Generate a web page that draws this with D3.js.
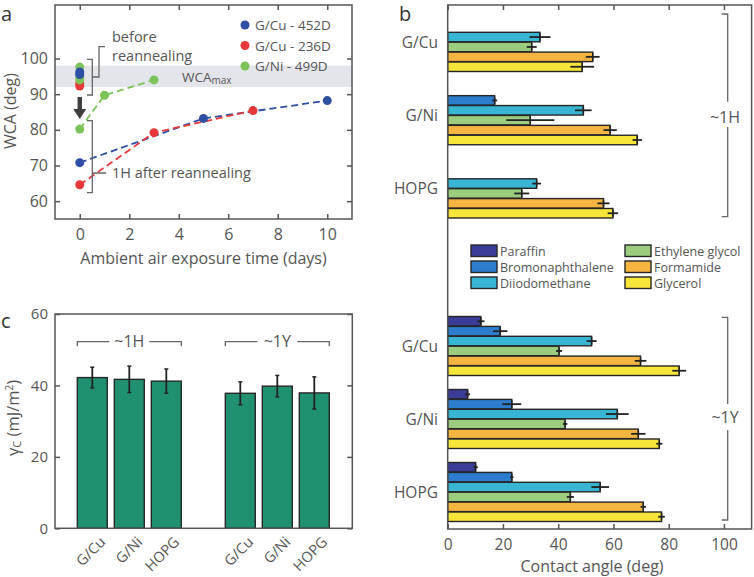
<!DOCTYPE html>
<html><head><meta charset="utf-8">
<script src="https://cdn.jsdelivr.net/npm/d3@7"></script>
<style>
body{margin:0;background:#fff;}
text{font-family:"Open Sans",sans-serif;}
</style></head>
<body><svg id="c" width="754" height="577"></svg>
<script>
// ---------- DATA ----------
// panel a
const seriesA = ["G/Cu - 452D","G/Cu - 236D","G/Ni - 499D"];
const beforeA = [[96.2,95.5],[93.0,92.3],[97.6,94.8,94.0]];
const afterDays = [[0,5,10],[0,3,7],[0,1,3]];
const afterWCA = [[70.8,83.2,88.2],[64.6,79.2,85.4],[80.2,89.7,94.0]];
const wcaMax = [92,98];
const ticksAx = [0,2,4,6,8,10];
const ticksAy = [60,70,80,90,100];
// panel b
const liquids = ["Paraffin","Bromonaphthalene","Diiodomethane","Ethylene glycol","Formamide","Glycerol"];
const substrates = ["G/Cu","G/Ni","HOPG"];
const angle1H = [[null,null,33.4,30.4,52.5,48.7],[null,17.0,49.1,29.9,58.8,68.6],[null,null,32.2,26.8,56.4,59.8]];
const err1H   = [[0,0,3.8,1.8,2.5,4.3],[0,0.9,3.0,8.7,2.4,1.7],[0,0,1.6,2.7,2.2,1.9]];
const angle1Y = [[12.0,19.0,52.1,40.3,69.8,83.8],[7.2,23.2,61.4,42.5,69.0,76.6],[10.1,23.2,55.2,44.4,70.8,77.4]];
const err1Y   = [[1.3,2.6,1.8,1.1,2.1,2.5],[0.9,3.4,4.1,0.8,2.6,1.1],[0.8,0.6,3.2,1.3,1.0,1.2]];
const ticksBx = [0,20,40,60,80,100];
// panel c
const catC = ["G/Cu","G/Ni","HOPG","","G/Cu ","G/Ni ","HOPG "];
const gammaC = [42.2,41.7,41.2,null,37.8,39.8,37.9];
const gammaErr = [2.9,3.7,3.4,null,3.2,3.0,4.5];
const ticksCy = [0,20,40,60];

// ---------- STYLE ----------
const TXT="#555", AX="#555";
const colA=["#2f4fa5","#e8383a","#7cc459"];
const colL=["#3a3c98","#2c7dcd","#37b5d2","#9ccc7e","#f6b440","#f8e53a"];
const BAR="#1f9171";
const svg=d3.select("#c");

// ---------- PANEL A ----------
const xA=d3.scaleLinear().domain([-1,11]).range([55,352]);
const yA=d3.scaleLinear().domain([55,115]).range([219,5]);
const gA=svg.append("g");
gA.append("rect").attr("x",xA(-1)).attr("y",yA(wcaMax[1])).attr("width",xA(11)-xA(-1)).attr("height",yA(wcaMax[0])-yA(wcaMax[1])).attr("fill","#e4e5ea");
gA.append("g").attr("transform",`translate(0,${yA(55)})`).call(d3.axisBottom(xA).tickValues(ticksAx).tickSize(-5).tickPadding(9.5).tickFormat(d3.format("d")))
  .call(g=>{g.select(".domain").remove();});
gA.append("g").attr("transform",`translate(0,${yA(115)})`).call(d3.axisTop(xA).tickValues(ticksAx).tickSize(-5).tickFormat(""))
  .call(g=>g.select(".domain").remove());
gA.append("g").attr("transform",`translate(${xA(-1)},0)`).call(d3.axisLeft(yA).tickValues(ticksAy).tickSize(-5).tickPadding(7))
  .call(g=>g.select(".domain").remove());
gA.append("g").attr("transform",`translate(${xA(11)},0)`).call(d3.axisRight(yA).tickValues(ticksAy).tickSize(-5).tickFormat(""))
  .call(g=>g.select(".domain").remove());
gA.selectAll(".tick line").attr("stroke",AX).attr("stroke-width",1.5);
gA.selectAll(".tick text").attr("fill",TXT).attr("font-size",16).attr("font-family","Open Sans");
gA.append("rect").attr("x",xA(-1)).attr("y",yA(115)).attr("width",xA(11)-xA(-1)).attr("height",yA(55)-yA(115)).attr("fill","none").attr("stroke",AX).attr("stroke-width",1.5);
const lineA=d3.line().x(d=>xA(d[0])).y(d=>yA(d[1]));
seriesA.forEach((s,i)=>{
  const pts=afterDays[i].map((d,j)=>[d,afterWCA[i][j]]);
  gA.append("path").attr("d",lineA(pts)).attr("fill","none").attr("stroke",colA[i]).attr("stroke-width",1.8).attr("stroke-dasharray","7,4");
});
[1,0,2].forEach(i=>{
  const pts=afterDays[i].map((d,j)=>[d,afterWCA[i][j]]);
  gA.selectAll(null).data(pts).enter().append("circle").attr("cx",d=>xA(d[0])).attr("cy",d=>yA(d[1])).attr("r",4.5).attr("fill",colA[i]);
});
[1,2,0].forEach(i=>{
  gA.selectAll(null).data(beforeA[i]).enter().append("circle").attr("cx",xA(0)).attr("cy",d=>yA(d)).attr("r",4.5).attr("fill",colA[i]);
});
seriesA.forEach((s,i)=>{
  const y=25+i*20.5;
  gA.append("circle").attr("cx",245).attr("cy",y).attr("r",4.5).attr("fill",colA[i]);
  gA.append("text").attr("x",255).attr("y",y+5).attr("font-size",13.5).attr("fill",TXT).text(s);
});
const br=gA.append("g").attr("fill","none").attr("stroke","#666").attr("stroke-width",1.3);
br.append("path").attr("d","M87,59.3H92.3V95H87M92.3,77H99V46.7H105");
br.append("path").attr("d","M87,120.7H92.3V192.7H87M92.3,173H106");
gA.append("text").attr("x",112).attr("y",41.5).attr("font-size",14.5).attr("fill",TXT).text("before");
gA.append("text").attr("x",112).attr("y",60.5).attr("font-size",14.5).attr("fill",TXT).text("reannealing");
gA.append("text").attr("x",112).attr("y",178).attr("font-size",14.5).attr("fill",TXT).text("1H after reannealing");
const wt=gA.append("text").attr("x",182).attr("y",81.5).attr("font-size",13.5).attr("fill",TXT).text("WCA");
wt.append("tspan").attr("font-size",10).attr("dy",2).text("max");
gA.append("path").attr("d",`M${xA(0)-2.2},97V109H${xA(0)-6.5}L${xA(0)},119L${xA(0)+6.5},109H${xA(0)+2.2}V97Z`).attr("fill","#3d3d3d");
gA.append("text").attr("x",xA(5)).attr("y",264).attr("text-anchor","middle").attr("font-size",16).attr("fill",TXT).text("Ambient air exposure time (days)");
gA.append("text").attr("transform","translate(16,111) rotate(-90)").attr("text-anchor","middle").attr("font-size",16).attr("fill",TXT).text("WCA (deg)");
svg.append("text").attr("x",1).attr("y",21).attr("font-size",20).attr("fill","#333").text("a");

// ---------- PANEL B ----------
const xB=d3.scaleLinear().domain([0,110]).range([447.7,751.6]);
const gB=svg.append("g");
gB.append("g").attr("transform","translate(0,529)").call(d3.axisBottom(xB).tickValues(ticksBx).tickSize(-5).tickPadding(10))
  .call(g=>g.select(".domain").remove());
gB.append("g").attr("transform","translate(0,5)").call(d3.axisTop(xB).tickValues(ticksBx).tickSize(-5).tickFormat(""))
  .call(g=>g.select(".domain").remove());
gB.selectAll(".tick line").attr("stroke",AX).attr("stroke-width",1.5);
gB.selectAll(".tick text").attr("fill",TXT).attr("font-size",15.5).attr("font-family","Open Sans");
const yG1H=d3.scalePoint().domain(substrates).range([42,188.5]);
const yG1Y=d3.scalePoint().domain(substrates).range([346,492]);
const yL=d3.scaleBand().domain(liquids).range([-29.5,29.5]).paddingInner(0.04);
function drawGroups(scale,vals,errs){
  substrates.forEach((s,i)=>{
    const c=scale(s);
    liquids.forEach((l,j)=>{
      const v=vals[i][j]; if(v==null) return;
      const y=c+yL(l);
      gB.append("rect").attr("x",xB(0)).attr("y",y).attr("width",xB(v)-xB(0)).attr("height",yL.bandwidth()).attr("fill",colL[j]).attr("stroke","#262626").attr("stroke-width",1.4);
      const e=errs[i][j];
      gB.append("line").attr("x1",xB(v-e)).attr("x2",xB(v+e)).attr("y1",y+yL.bandwidth()/2).attr("y2",y+yL.bandwidth()/2).attr("stroke","#222").attr("stroke-width",1.8);
      gB.append("line").attr("x1",xB(v)).attr("x2",xB(v)).attr("y1",y+1).attr("y2",y+yL.bandwidth()-1).attr("stroke","#222").attr("stroke-width",1.5);
    });
    gB.append("text").attr("x",438).attr("y",c+5.5).attr("text-anchor","end").attr("font-size",15.5).attr("fill",TXT).text(s);
  });
}
drawGroups(yG1H,angle1H,err1H);
drawGroups(yG1Y,angle1Y,err1Y);
gB.append("rect").attr("x",xB(0)).attr("y",5).attr("width",xB(110)-xB(0)).attr("height",524).attr("fill","none").attr("stroke",AX).attr("stroke-width",1.5);
liquids.forEach((l,j)=>{
  const col=Math.floor(j/3), row=j%3;
  const x=col?625:471, y=245+row*16;
  gB.append("rect").attr("x",x).attr("y",y).attr("width",26).attr("height",11.5).attr("fill",colL[j]).attr("stroke","#262626").attr("stroke-width",1.4);
  gB.append("text").attr("x",x+29).attr("y",y+10.5).attr("font-size",12.5).attr("fill",TXT).text(l);
});
const bb=gB.append("g").attr("fill","none").attr("stroke","#666").attr("stroke-width",1.3);
bb.append("path").attr("d","M721.7,14H727.7V101.7M727.7,127V216.7H721.7");
bb.append("path").attr("d","M721.7,317.3H727.7V404M727.7,430V520H721.7");
gB.append("text").attr("x",725).attr("y",123).attr("text-anchor","middle").attr("font-size",16).attr("fill",TXT).text("~1H");
gB.append("text").attr("x",725).attr("y",423).attr("text-anchor","middle").attr("font-size",16).attr("fill",TXT).text("~1Y");
gB.append("text").attr("x",592).attr("y",572).attr("text-anchor","middle").attr("font-size",16).attr("fill",TXT).text("Contact angle (deg)");
svg.append("text").attr("x",399).attr("y",21).attr("font-size",20).attr("fill","#333").text("b");

// ---------- PANEL C ----------
const xC=d3.scaleBand().domain(catC).range([73.8,332.8]).paddingInner(0.19).paddingOuter(0.095);
const yC=d3.scaleLinear().domain([0,60]).range([528.3,314]);
const gC=svg.append("g");
gC.append("g").attr("transform","translate(55,0)").call(d3.axisLeft(yC).tickValues(ticksCy).tickSize(-5).tickPadding(7))
  .call(g=>g.select(".domain").remove());
gC.append("g").attr("transform","translate(352.3,0)").call(d3.axisRight(yC).tickValues(ticksCy).tickSize(-5).tickFormat(""))
  .call(g=>g.select(".domain").remove());
gC.selectAll(".tick line").attr("stroke",AX).attr("stroke-width",1.5);
gC.selectAll(".tick text").attr("fill",TXT).attr("font-size",15).attr("font-family","Open Sans");
catC.forEach((c,i)=>{
  const v=gammaC[i]; if(v==null) return;
  const x=xC(c), w=xC.bandwidth(), cx=x+w/2, e=gammaErr[i];
  gC.append("rect").attr("x",x).attr("y",yC(v)).attr("width",w).attr("height",yC(0)-yC(v)).attr("fill",BAR).attr("stroke","#262626").attr("stroke-width",1.4);
  gC.append("line").attr("x1",cx).attr("x2",cx).attr("y1",yC(v-e)).attr("y2",yC(v+e)).attr("stroke","#222").attr("stroke-width",1.8);
  [v-e,v+e].forEach(t=>gC.append("line").attr("x1",cx-2).attr("x2",cx+2).attr("y1",yC(t)).attr("y2",yC(t)).attr("stroke","#222").attr("stroke-width",1.5));
  gC.append("text").attr("transform",`translate(${cx+14},${543}) rotate(-45)`).attr("text-anchor","end").attr("font-size",14.5).attr("fill",TXT).text(c.trim());
});
gC.append("rect").attr("x",55).attr("y",314).attr("width",297.3).attr("height",214.3).attr("fill","none").attr("stroke",AX).attr("stroke-width",1.5);
const gb=gC.append("g").attr("fill","none").attr("stroke","#666").attr("stroke-width",1.3);
function grpBracket(a,b,label){
  const x0=xC(a), x1=xC(b)+xC.bandwidth(), m=(x0+x1)/2, y=341.7;
  gb.append("path").attr("d",`M${x0},${y+4.5}V${y}H${m-20}M${m+20},${y}H${x1}V${y+4.5}`);
  gC.append("text").attr("x",m).attr("y",y+5.5).attr("text-anchor","middle").attr("font-size",16).attr("fill",TXT).text(label);
}
grpBracket("G/Cu","HOPG","~1H");
grpBracket("G/Cu ","HOPG ","~1Y");
const yl=gC.append("text").attr("transform","translate(19,418) rotate(-90)").attr("text-anchor","middle").attr("font-size",16.5).attr("fill",TXT);
yl.append("tspan").text("γ");
yl.append("tspan").attr("font-size",11).attr("dy",2).text("C");
yl.append("tspan").attr("dy",-2).text(" (mJ/m");
yl.append("tspan").attr("font-size",10).attr("dy",-6).text("2");
yl.append("tspan").attr("dy",6).text(")");
svg.append("text").attr("x",1).attr("y",328).attr("font-size",20).attr("fill","#333").text("c");
</script></body></html>
